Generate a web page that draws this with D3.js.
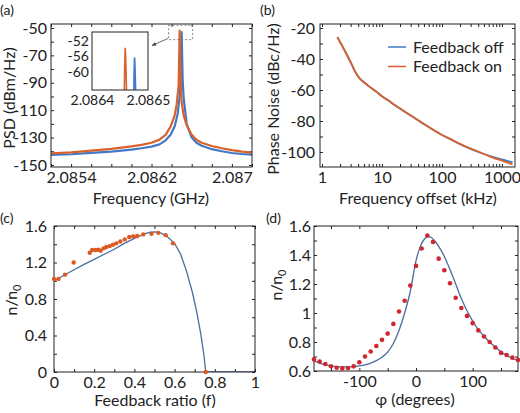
<!DOCTYPE html>
<html lang="en">
<head>
<meta charset="UTF-8">
<title>Feedback PSD, phase noise and n/n0</title>
<script src="https://d3js.org/d3.v7.min.js"></script>
<style>
  body { margin: 0; background: #fff; }
  svg { display: block; font-family: Lato, "Open Sans", sans-serif; }
  .lbl { font-size: 16px; fill: #222; }
  .tag { font-size: 14px; fill: #222; }
  .tick text { font-size: 16px; fill: #222; font-family: Lato, "Open Sans", sans-serif; }
  .inset .tick text { font-size: 14px; }
  .domain { display: none; }
  .tick line { stroke: #222; }
</style>
</head>
<body>
<svg width="520" height="413"></svg>
<script>
// ---- (a) PSD, GHz / dBm/Hz
const psdFreqOn = [2.0852, 2.0854, 2.0856, 2.0858, 2.0860, 2.0861, 2.0862, 2.08628, 2.08634, 2.08639, 2.08643, 2.08645, 2.08647, 2.08648, 2.08649, 2.0865, 2.08652, 2.08655, 2.0866, 2.08665, 2.0867, 2.0868, 2.0869, 2.087, 2.0871, 2.0872];
const psdOn = [-141.5, -140.8, -139.5, -138.3, -136.5, -135.3, -133.8, -131.5, -128, -122, -114, -106, -92, -52, -90, -104, -114, -121, -128, -131.8, -133.8, -136.2, -137.8, -139.2, -140.3, -141];
const psdFreqOff = [2.0852, 2.0854, 2.0856, 2.0858, 2.0860, 2.0861, 2.0862, 2.08628, 2.08634, 2.08639, 2.08643, 2.08646, 2.08648, 2.08649, 2.0865, 2.08651, 2.08652, 2.08655, 2.0866, 2.08665, 2.0867, 2.0868, 2.0869, 2.087, 2.0871, 2.0872];
const psdOff = [-142.7, -142.2, -141.2, -140.3, -138.8, -137.8, -136.6, -135, -132, -128, -122, -113, -100, -86, -53, -88, -101, -120, -130, -134, -136, -138.5, -140, -141.3, -142, -142.5];
// inset (zoom on the peak)
const insetFreqOn = [2.0864575, 2.0864585, 2.0864593, 2.08646, 2.0864608, 2.0864618];
const insetOn = [-66, -58, -53.8, -56, -60, -66];
const insetFreqOff = [2.0864745, 2.0864752, 2.086476, 2.0864765, 2.0864772, 2.0864782];
const insetOff = [-66, -60, -56.3, -57.5, -61, -66];

// ---- (b) phase noise, kHz / dBc/Hz
const pnFreq = [1.8, 2, 2.5, 3, 3.5, 4, 4.5, 5, 6, 8, 10, 13, 16, 20, 25, 30, 40, 50, 70, 100, 150, 200, 300, 500, 700, 1000, 1300, 1500];
const pnOff = [-26, -29, -36, -42, -47.5, -51.3, -53.5, -55, -57.5, -61, -64, -67, -69.5, -72, -74.5, -76.5, -79.5, -82, -85.5, -89, -92.5, -95, -98, -101.3, -103.2, -104.8, -106, -106.6];
const pnOn = [-26, -29, -36, -42, -47.5, -51.3, -53.5, -55, -57.5, -61, -64, -67, -69.5, -72, -74.3, -76.3, -79.5, -82, -85.5, -89, -92.3, -94.8, -97.8, -101.3, -103.6, -105.6, -107.2, -108];

// ---- (c) n/n0 vs feedback ratio
const ratioLine = [0, 0.05, 0.1, 0.15, 0.2, 0.25, 0.3, 0.35, 0.4, 0.45, 0.48, 0.5, 0.53, 0.56, 0.6, 0.63, 0.66, 0.69, 0.71, 0.73, 0.745, 0.755, 0.8, 0.9, 1];
const nLineC = [1.0, 1.06, 1.12, 1.18, 1.235, 1.29, 1.345, 1.41, 1.465, 1.515, 1.532, 1.535, 1.525, 1.49, 1.41, 1.29, 1.1, 0.86, 0.66, 0.42, 0.2, 0, 0, 0, 0];
const ratioDots = [0.0, 0.022, 0.055, 0.098, 0.178, 0.19, 0.207, 0.22, 0.232, 0.247, 0.26, 0.277, 0.293, 0.31, 0.33, 0.352, 0.374, 0.394, 0.414, 0.444, 0.485, 0.519, 0.556, 0.592, 0.755];
const nDotsC = [1.02, 1.02, 1.067, 1.2, 1.307, 1.337, 1.337, 1.34, 1.33, 1.355, 1.37, 1.38, 1.394, 1.41, 1.43, 1.453, 1.48, 1.486, 1.49, 1.508, 1.514, 1.525, 1.5, 1.41, 0];

// ---- (d) n/n0 vs phase
const phiLine = [-180, -170, -160, -150, -140, -130, -120, -110, -100, -90, -80, -70, -60, -50, -40, -30, -20, -10, 0, 5, 10, 15, 20, 25, 30, 40, 50, 60, 70, 80, 90, 100, 110, 120, 130, 140, 150, 160, 170, 180];
const nLineD = [0.67, 0.655, 0.643, 0.635, 0.63, 0.628, 0.628, 0.63, 0.635, 0.643, 0.655, 0.672, 0.695, 0.73, 0.79, 0.88, 1.0, 1.15, 1.36, 1.43, 1.48, 1.51, 1.525, 1.525, 1.51, 1.46, 1.39, 1.3, 1.2, 1.1, 1.015, 0.945, 0.885, 0.84, 0.8, 0.765, 0.732, 0.706, 0.688, 0.672];
const phiDots = d3.range(-180, 181, 10);
const nDotsD = [0.68, 0.665, 0.648, 0.632, 0.622, 0.618, 0.62, 0.632, 0.66, 0.7, 0.735, 0.772, 0.815, 0.858, 0.925, 1.01, 1.085, 1.19, 1.325, 1.445, 1.535, 1.49, 1.375, 1.295, 1.205, 1.105, 1.035, 0.98, 0.93, 0.88, 0.838, 0.8, 0.762, 0.725, 0.71, 0.692, 0.676];

const BLUE = "#4279c6", ORANGE = "#d9622b", FIT = "#4a6b9f";
const svg = d3.select("svg");

const near = (arr, d) => arr.some(v => Math.abs(v - d) < 1e-9);

// boxed axes with inward ticks on all four sides (matlab look)
function frame(id, x, y, o) {
  const g = svg.append("g").attr("class", o.cls || null);
  const [x0, x1] = x.range(), [y0, y1] = y.range();
  svg.append("clipPath").attr("id", id).append("rect")
    .attr("x", x0).attr("y", y1).attr("width", x1 - x0).attr("height", y0 - y1);
  const lab = (vals, fmt) => d => near(vals, d) ? fmt(d) : "";
  g.append("g").attr("transform", `translate(0,${y0})`)
    .call(d3.axisBottom(x).tickValues(o.xt).tickSize(-o.ts).tickPadding(o.xp).tickFormat(lab(o.xl, o.xf)));
  g.append("g").attr("transform", `translate(0,${y1})`)
    .call(d3.axisTop(x).tickValues(o.xt).tickSize(-o.ts).tickFormat(""));
  g.append("g").attr("transform", `translate(${x0},0)`)
    .call(d3.axisLeft(y).tickValues(o.yt).tickSize(-o.ts).tickPadding(o.yp).tickFormat(lab(o.yl, o.yf)));
  g.append("g").attr("transform", `translate(${x1},0)`)
    .call(d3.axisRight(y).tickValues(o.yt).tickSize(-o.ts).tickFormat(""));
  const plot = svg.append("g").attr("clip-path", `url(#${id})`);
  svg.append("rect").attr("x", x0).attr("y", y1).attr("width", x1 - x0).attr("height", y0 - y1)
    .attr("fill", "none").attr("stroke", "#222").attr("stroke-width", 1);
  return plot;
}

function yTitle(text, x, y) {
  return svg.append("text").attr("class", "lbl").attr("text-anchor", "middle")
    .attr("transform", `translate(${x},${y}) rotate(-90)`).text(text);
}
function xTitle(text, x, y) {
  return svg.append("text").attr("class", "lbl").attr("text-anchor", "middle")
    .attr("x", x).attr("y", y).text(text);
}
const str = d => String(+d.toFixed(4));
const zip = (a, b) => a.map((v, i) => [v, b[i]]);

// ================= (a)
{
  const x = d3.scaleLinear().domain([2.0852, 2.0872]).range([51, 252]);
  const y = d3.scaleLinear().domain([-151.5, -47.1]).range([167, 24]);
  const p = frame("clipA", x, y, {
    xt: d3.range(2.0852, 2.08721, 0.0002), xl: [2.0854, 2.0862, 2.087], xf: str, xp: 5,
    yt: d3.range(-150, -49, 10), yl: [-150, -130, -110, -90, -70, -50], yf: str, yp: 4, ts: 3
  });
  const line = d3.line().x(d => x(d[0])).y(d => y(d[1]));
  p.append("path").datum(zip(psdFreqOff, psdOff)).attr("d", line)
    .attr("fill", "none").attr("stroke", BLUE).attr("stroke-width", 2.2).attr("stroke-linejoin", "round");
  p.append("path").datum(zip(psdFreqOn, psdOn)).attr("d", line)
    .attr("fill", "none").attr("stroke", ORANGE).attr("stroke-width", 2.2).attr("stroke-linejoin", "round");

  // dashed zoom box round the peak, and arrow to the inset
  svg.append("rect").attr("x", x(2.08637)).attr("y", y(-48)).attr("width", x(2.08661) - x(2.08637))
    .attr("height", y(-58.5) - y(-48)).attr("fill", "none").attr("stroke", "#777")
    .attr("stroke-width", 0.9).attr("stroke-dasharray", "2,2");
  svg.append("defs").append("marker").attr("id", "arr").attr("viewBox", "0 0 10 10")
    .attr("refX", 9).attr("refY", 5).attr("markerWidth", 6).attr("markerHeight", 6).attr("orient", "auto")
    .append("path").attr("d", "M0,1L10,5L0,9z").attr("fill", "#444");
  svg.append("line").attr("x1", 168).attr("y1", 38.5).attr("x2", 152).attr("y2", 45.5)
    .attr("stroke", "#444").attr("stroke-width", 0.8).attr("marker-end", "url(#arr)");

  // inset
  const xi = d3.scaleLinear().domain([2.0864, 2.0865]).range([92, 148]);
  const yi = d3.scaleLinear().domain([-64.7, -49.75]).range([90, 32]);
  svg.append("rect").attr("x", 92).attr("y", 32).attr("width", 56).attr("height", 58).attr("fill", "#fff");
  const pi = frame("clipI", xi, yi, {
    cls: "inset",
    xt: [2.0864, 2.0865], xl: [2.0864, 2.0865], xf: str, xp: 5,
    yt: [-60, -56, -52], yl: [-60, -56, -52], yf: str, yp: 3, ts: 0
  });
  pi.append("path").datum(zip(insetFreqOff, insetOff)).attr("d", line.x(d => xi(d[0])).y(d => yi(d[1])))
    .attr("fill", "none").attr("stroke", BLUE).attr("stroke-width", 1.6);
  pi.append("path").datum(zip(insetFreqOn, insetOn)).attr("d", line)
    .attr("fill", "none").attr("stroke", ORANGE).attr("stroke-width", 1.6);

  yTitle("PSD (dBm/Hz)", 15, 98);
  xTitle("Frequency (GHz)", 151, 204);
  svg.append("text").attr("class", "tag").attr("x", 0).attr("y", 15).text("(a)");
}

// ================= (b)
{
  const x = d3.scaleLog().domain([0.926, 1646]).range([320, 515]);
  const y = d3.scaleLinear().domain([-109.7, -17.4]).range([167, 24]);
  const minor = [];
  [1, 10, 100, 1000].forEach(b => d3.range(1, 10).forEach(k => { if (b * k <= 1646) minor.push(b * k); }));
  const p = frame("clipB", x, y, {
    xt: minor, xl: [1, 10, 100, 1000], xf: str, xp: 5,
    yt: d3.range(-100, -19, 10), yl: [-100, -80, -60, -40, -20], yf: str, yp: 5, ts: 3
  });
  const line = d3.line().curve(d3.curveMonotoneX).x(d => x(d[0])).y(d => y(d[1]));
  p.append("path").datum(zip(pnFreq, pnOff)).attr("d", line)
    .attr("fill", "none").attr("stroke", BLUE).attr("stroke-width", 1.8);
  p.append("path").datum(zip(pnFreq, pnOn)).attr("d", line)
    .attr("fill", "none").attr("stroke", ORANGE).attr("stroke-width", 1.8);

  const leg = [["Feedback off", BLUE], ["Feedback on", ORANGE]];
  leg.forEach(([t, c], i) => {
    svg.append("line").attr("x1", 388).attr("x2", 406).attr("y1", 47 + i * 19.5).attr("y2", 47 + i * 19.5)
      .attr("stroke", c).attr("stroke-width", 1.5);
    svg.append("text").attr("class", "lbl").attr("x", 413).attr("y", 52.5 + i * 19.5).text(t);
  });

  yTitle("Phase Noise (dBc/Hz)", 279, 99);
  xTitle("Frequency offset (kHz)", 418, 204);
  svg.append("text").attr("class", "tag").attr("x", 260).attr("y", 15).text("(b)");
}

// ================= (c)
{
  const x = d3.scaleLinear().domain([0, 1]).range([54, 255]);
  const y = d3.scaleLinear().domain([0, 1.6]).range([372, 226]);
  const p = frame("clipC", x, y, {
    xt: d3.range(0, 1.01, 0.1), xl: [0, 0.2, 0.4, 0.6, 0.8, 1], xf: str, xp: 5,
    yt: d3.range(0, 1.61, 0.2), yl: [0, 0.4, 0.8, 1.2, 1.6], yf: str, yp: 7, ts: 3
  });
  p.append("path").datum(zip(ratioLine, nLineC)).attr("d", d3.line().x(d => x(d[0])).y(d => y(d[1])))
    .attr("fill", "none").attr("stroke", FIT).attr("stroke-width", 1.3);
  svg.append("g").selectAll("circle").data(zip(ratioDots, nDotsC)).join("circle")
    .attr("cx", d => x(d[0])).attr("cy", d => y(d[1])).attr("r", 2.2).attr("fill", "#dc5a22");

  const t = yTitle("n/n", 17, 300);
  t.append("tspan").attr("font-size", 11).attr("dy", 4).text("0");
  xTitle("Feedback ratio (f)", 155, 406);
  svg.append("text").attr("class", "tag").attr("x", 0).attr("y", 223).text("(c)");
}

// ================= (d)
{
  const x = d3.scaleLinear().domain([-180, 180]).range([314, 518]);
  const y = d3.scaleLinear().domain([0.6, 1.6]).range([371, 226]);
  const p = frame("clipD", x, y, {
    xt: d3.range(-150, 151, 50), xl: [-100, 0, 100], xf: str, xp: 5,
    yt: d3.range(0.6, 1.61, 0.1), yl: [0.6, 0.8, 1, 1.2, 1.4, 1.6], yf: str, yp: 3, ts: 3
  });
  p.append("path").datum(zip(phiLine, nLineD)).attr("d", d3.line().curve(d3.curveMonotoneX).x(d => x(d[0])).y(d => y(d[1])))
    .attr("fill", "none").attr("stroke", FIT).attr("stroke-width", 1.3);
  svg.append("g").selectAll("circle").data(zip(phiDots, nDotsD)).join("circle")
    .attr("cx", d => x(d[0])).attr("cy", d => y(d[1])).attr("r", 2.3).attr("fill", "#d0262e");

  const t = yTitle("n/n", 282, 285);
  t.append("tspan").attr("font-size", 11).attr("dy", 4).text("0");
  xTitle("\u03c6 (degrees)", 415, 405);
  svg.append("text").attr("class", "tag").attr("x", 266).attr("y", 223).text("(d)");
}
</script>
</body>
</html>
